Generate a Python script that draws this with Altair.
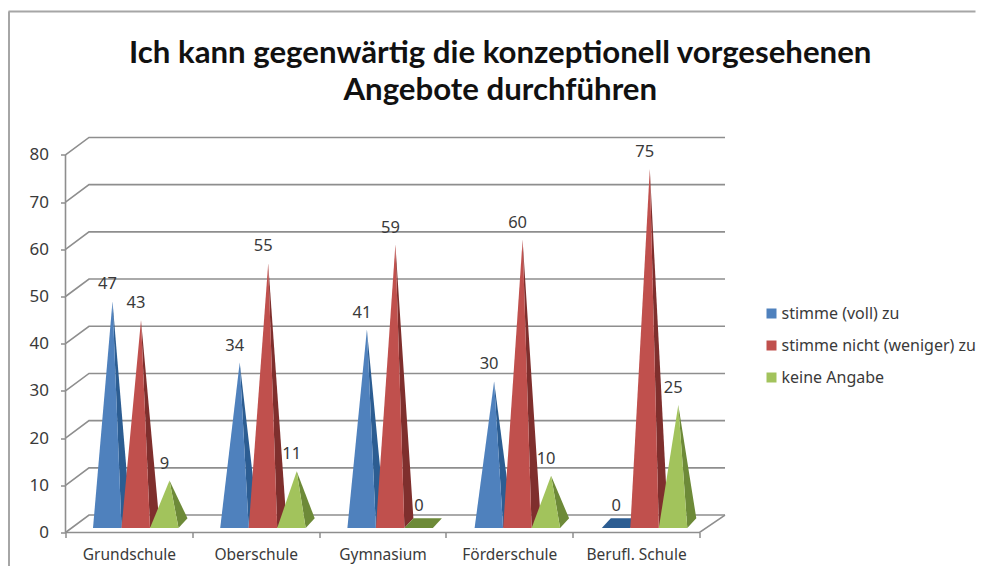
import json
import altair as alt
import pandas as pd

categories = ["Grundschule", "Oberschule", "Gymnasium", "Förderschule", "Berufl. Schule"]
series_names = ["stimme (voll) zu", "stimme nicht (weniger) zu", "keine Angabe"]
voll = [47, 34, 41, 30, 0]
nicht = [43, 55, 59, 60, 75]
keine = [9, 11, 0, 10, 25]
title_lines = ["Ich kann gegenwärtig die konzeptionell vorgesehenen", "Angebote durchführen"]
y_ticks = [0, 10, 20, 30, 40, 50, 60, 70, 80]
front_colors = ["#4f81bd", "#c0504d", "#a2c35c"]
side_colors = ["#2c5d92", "#7f2f2d", "#6d8a38"]

# geometry of the fake 3D box (category units / value units)
PX_X, PX_Y = 126.8, 4.72
XMAX, YMAX = 659.5 / PX_X, 395.0 / PX_Y
DX, DY = 23.5 / PX_X, 3.7
G0, W = 27.5 / PX_X, 28.5 / PX_X
STEP = 127.2 / PX_X
APEX = 19.5 / PX_X
E = 9.0 / PX_X
BF, BB, BA = 0.95, 3.0, 2.0


def hull(poly, face, extra):
    rows = []
    xs = sorted({p[0] for p in poly})
    n = len(poly)
    for x in xs:
        ys = []
        for i in range(n):
            a, b = poly[i], poly[(i + 1) % n]
            lo, hi = min(a[0], b[0]), max(a[0], b[0])
            if lo <= x <= hi:
                if a[0] == b[0]:
                    ys += [a[1], b[1]]
                else:
                    ys.append(a[1] + (b[1] - a[1]) * (x - a[0]) / (b[0] - a[0]))
        rows.append(dict(x=x, y=max(ys), y2=min(ys), face=face, **extra))
    return rows


fronts, sides, labels = [], [], []
for c, cat in enumerate(categories):
    for s, vals in enumerate([voll, nicht, keine]):
        v = vals[c]
        x0 = c * STEP + G0 + s * W
        x1 = x0 + W
        xa = x0 + APEX
        top = BA + v
        key = f"{c}-{s}"
        if v == 0:
            sides += hull([(x0, BF), (x1, BF), (x1 + E, BB), (x0 + E, BB)], key,
                          dict(shade=side_colors[s]))
        else:
            fronts += hull([(x0, BF), (xa, top), (x1, BF)], key, dict(series=series_names[s]))
            sides += hull([(xa, top), (x1, BF), (x1 + E, BB)], key, dict(shade=side_colors[s]))
        labels.append(dict(x=xa, y=top, text=str(v)))

grid = []
for v in y_ticks:
    for o, (x, y) in enumerate([(0, v), (DX, v + DY), (XMAX, v + DY)]):
        grid.append(dict(x=x, y=y, line=f"g{v}", o=o))
for o, (x, y) in enumerate([(0, 0), (0, 80)]):
    grid.append(dict(x=x, y=y, line="yaxis", o=o))
for o, (x, y) in enumerate([(0, 0), (5, 0), (XMAX, DY)]):
    grid.append(dict(x=x, y=y, line="floor", o=o))

xs = alt.Scale(domain=[0, XMAX], nice=False, zero=False)
ys = alt.Scale(domain=[0, YMAX], nice=False, zero=False)
GRAY = "#8e8e8e"
FONT = "Noto Sans"
TXT = "#3a3a3a"

x_axis = alt.Axis(
    values=[i / 2 for i in range(11)],
    labelExpr=f"datum.value % 1 == 0 ? '' : {json.dumps(categories, ensure_ascii=False)}[floor(datum.value)]",
    tickOpacity={"condition": {"test": "datum.value % 1 != 0", "value": 0}, "value": 1},
    domain=False, grid=False, title=None, tickColor=GRAY, tickSize=5, tickWidth=1.5,
    labelFont=FONT, labelFontSize=15.5, labelColor=TXT, labelPadding=10, labelOverlap=False,
    labelFlush=False, labelBound=False,
)
y_axis = alt.Axis(
    values=y_ticks, domain=False, grid=False, title=None, tickColor=GRAY, tickSize=5, tickWidth=1.5,
    labelFont=FONT, labelFontSize=17, labelColor=TXT, labelPadding=12, labelOverlap=False,
    labelBound=False,
)
X = alt.X("x:Q", scale=xs, axis=x_axis)
Y = alt.Y("y:Q", scale=ys, axis=y_axis)

grid_layer = alt.Chart(pd.DataFrame(grid)).mark_line(color=GRAY, strokeWidth=1.6).encode(
    x=X, y=Y, detail="line:N", order="o:Q",
)
side_layer = alt.Chart(pd.DataFrame(sides)).mark_area(interpolate="linear").encode(
    x=X, y=Y, y2="y2:Q", detail="face:N",
    fill=alt.Fill("shade:N", scale=None, legend=None),
)
front_layer = alt.Chart(pd.DataFrame(fronts)).mark_area(interpolate="linear").encode(
    x=X, y=Y, y2="y2:Q", detail="face:N",
    color=alt.Color(
        "series:N",
        scale=alt.Scale(domain=series_names, range=front_colors),
        sort=series_names,
        legend=alt.Legend(
            title=None, orient="none", legendX=698, legendY=168, symbolType="square",
            symbolSize=100, symbolStrokeWidth=0, labelFont=FONT, labelFontSize=16,
            labelColor=TXT, labelLimit=300, rowPadding=16, labelOffset=2,
        ),
    ),
)
label_layer = alt.Chart(pd.DataFrame(labels)).mark_text(
    font=FONT, fontSize=16.5, color=TXT, dx=-5, dy=-17, baseline="middle", align="center"
).encode(
    x=X, y=Y, text="text:N",
)
frame_top = alt.Chart(pd.DataFrame({"a": [0]})).mark_rule(color="#a6a6a6", strokeWidth=2).encode(
    x=alt.value(-57), x2=alt.value(910), y=alt.value(-126)
)
frame_left = alt.Chart(pd.DataFrame({"a": [0]})).mark_rule(color="#a6a6a6", strokeWidth=2).encode(
    x=alt.value(-56.5), y=alt.value(-126), y2=alt.value(430)
)

chart = alt.layer(frame_top, frame_left, grid_layer, side_layer, front_layer, label_layer).properties(
    width=659.5,
    height=395,
    title=alt.TitleParams(
        text=title_lines, font="Lato", fontSize=31.2, fontWeight="bold", color="#111111",
        anchor="middle", dx=105, dy=100, lineHeight=37,
    ),
    padding={"left": 57.5, "top": 129.5, "right": 251, "bottom": 33.5},
    autosize=alt.AutoSizeParams(type="none"),
    background="white",
).configure_view(stroke=None)

chart.save("out.html", embed_options={"renderer": "svg", "actions": False})
